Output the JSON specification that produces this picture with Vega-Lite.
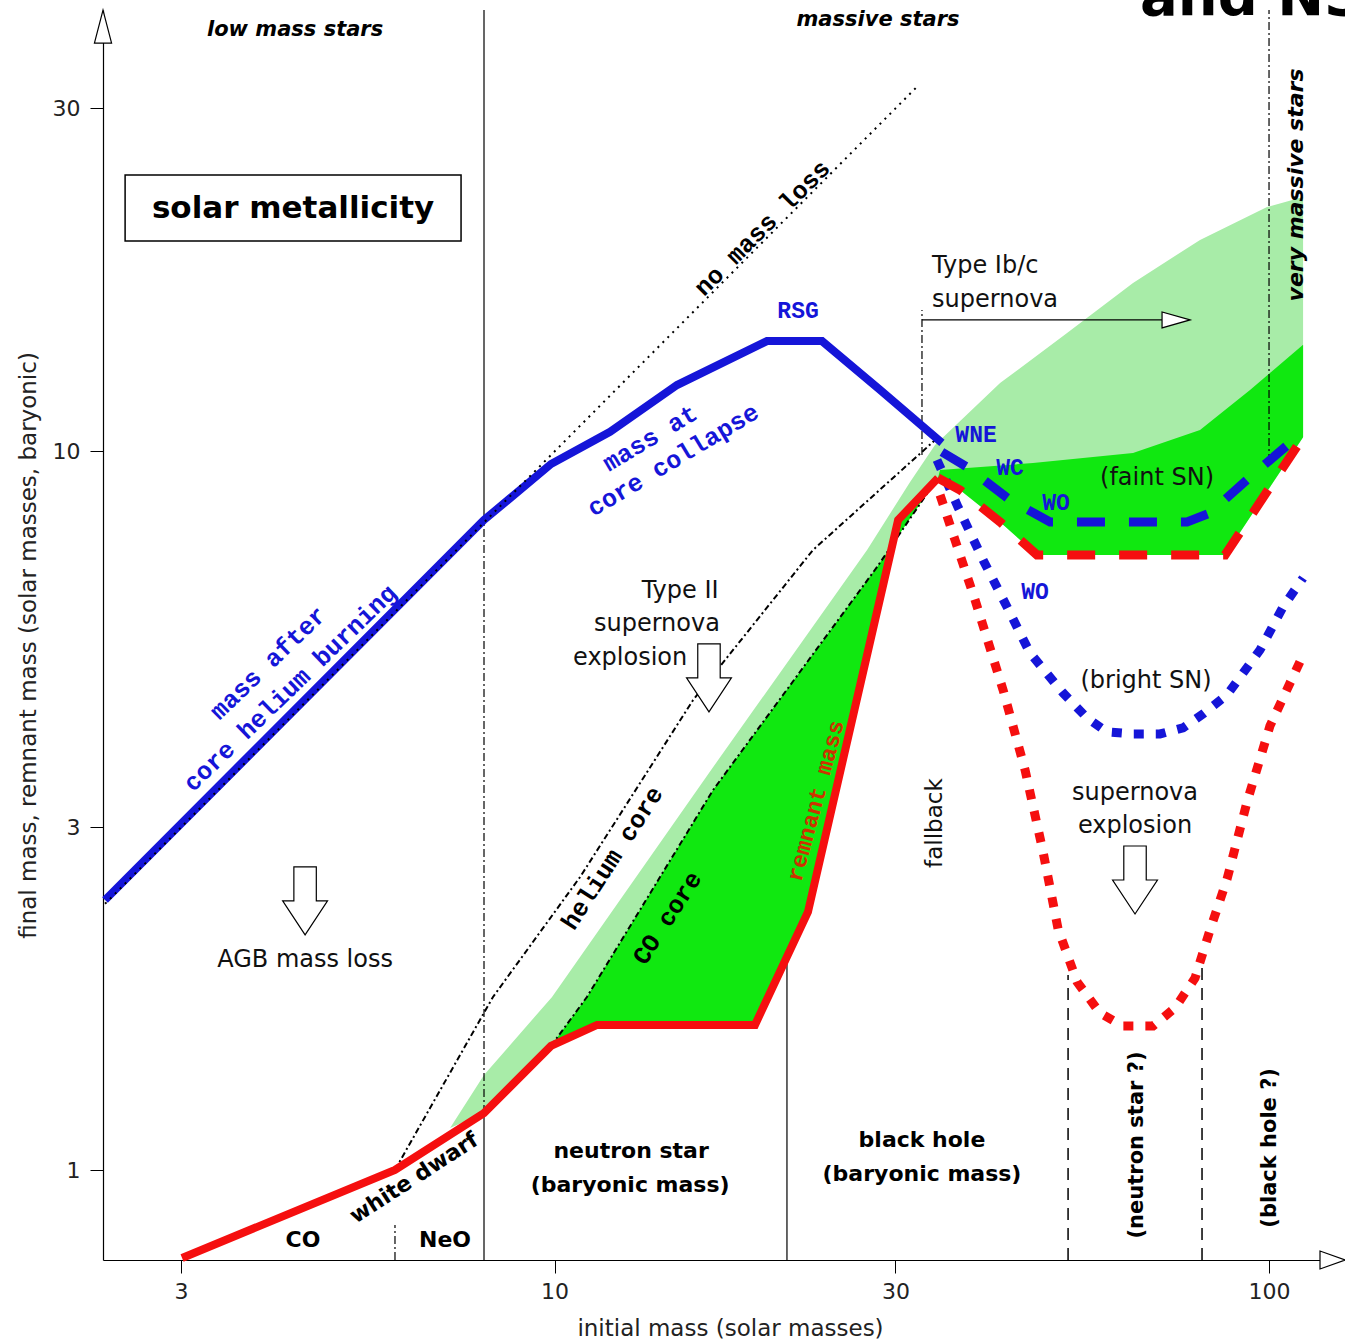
{
  "$schema": "https://vega.github.io/schema/vega-lite/v6.json",
  "width": 1237,
  "height": 1250,
  "autosize": {"type": "none"},
  "padding": {"left": 103, "top": 10, "right": 5, "bottom": 83},
  "background": "white",
  "config": {"view": {"stroke": null}, "axis": {"grid": false}},
  "encoding": {
    "x": {"field": "x", "type": "quantitative",
      "scale": {"type": "log", "domain": [2.3337, 125.7], "nice": false, "zero": false},
      "axis": {"values": [3, 10, 30, 100], "format": "d", "tickSize": 13, "tickColor": "#000", "domainColor": "#000", "domainWidth": 1.2,
        "labelFont": "DejaVu Sans", "labelFontSize": 22, "labelColor": "#222", "labelPadding": 8, "labelFlush": false, "labelOverlap": false,
        "title": "initial mass (solar masses)", "titleFont": "DejaVu Sans", "titleFontSize": 23, "titleFontWeight": "normal", "titleColor": "#222",
        "titleX": 627, "titleY": 68, "titleBaseline": "middle", "titleAlign": "center"}},
    "y": {"field": "y", "type": "quantitative",
      "scale": {"type": "log", "domain": [0.7507, 41.12], "nice": false, "zero": false},
      "axis": {"values": [1, 3, 10, 30], "format": "d", "tickSize": 13, "tickColor": "#000", "domainColor": "#000", "domainWidth": 1.2,
        "labelFont": "DejaVu Sans", "labelFontSize": 22, "labelColor": "#222", "labelPadding": 10, "labelFlush": false, "labelOverlap": false,
        "title": "final mass, remnant mass (solar masses, baryonic)", "titleFont": "DejaVu Sans", "titleFontSize": 23, "titleFontWeight": "normal", "titleColor": "#222",
        "titleX": -75, "titleY": 635, "titleAngle": 270, "titleBaseline": "middle", "titleAlign": "center"}}
  },
  "layer": [
    {"data": {"values": [
      {"i": 1, "x": 7.142, "y": 1.146}, {"i": 2, "x": 7.967, "y": 1.358}, {"i": 3, "x": 9.92, "y": 1.743}, {"i": 4, "x": 16.45, "y": 3.572},
      {"i": 5, "x": 27.38, "y": 7.295}, {"i": 6, "x": 31.45, "y": 9.07}, {"i": 7, "x": 34.08, "y": 10.21}, {"i": 8, "x": 42.03, "y": 12.45},
      {"i": 9, "x": 52.16, "y": 14.62}, {"i": 10, "x": 64.51, "y": 17.16}, {"i": 11, "x": 80.06, "y": 19.69}, {"i": 12, "x": 99.36, "y": 21.88},
      {"i": 13, "x": 111.6, "y": 22.59}, {"i": 14, "x": 111.6, "y": 10.47}, {"i": 15, "x": 86.79, "y": 7.18}, {"i": 16, "x": 47.34, "y": 7.18},
      {"i": 17, "x": 42.03, "y": 7.98}, {"i": 18, "x": 36.94, "y": 8.84}, {"i": 19, "x": 34.41, "y": 9.186}, {"i": 20, "x": 30.26, "y": 8.03},
      {"i": 21, "x": 22.63, "y": 2.288}, {"i": 22, "x": 19.08, "y": 1.594}, {"i": 23, "x": 11.47, "y": 1.594}, {"i": 24, "x": 9.888, "y": 1.49},
      {"i": 25, "x": 7.967, "y": 1.202}]},
     "mark": {"type": "line", "fill": "#a8eca8", "strokeWidth": 0},
     "encoding": {"order": {"field": "i", "type": "quantitative"}}},
    {"data": {"values": [
      {"i": 1, "x": 9.888, "y": 1.49}, {"i": 2, "x": 11.1, "y": 1.743}, {"i": 3, "x": 16.67, "y": 3.382}, {"i": 4, "x": 28.28, "y": 6.909},
      {"i": 5, "x": 34.08, "y": 9.07}, {"i": 6, "x": 34.41, "y": 9.186}, {"i": 7, "x": 30.26, "y": 8.03}, {"i": 8, "x": 22.63, "y": 2.288},
      {"i": 9, "x": 19.08, "y": 1.594}, {"i": 10, "x": 11.47, "y": 1.594}]},
     "mark": {"type": "line", "fill": "#10e810", "strokeWidth": 0},
     "encoding": {"order": {"field": "i", "type": "quantitative"}}},
    {"data": {"values": [
      {"i": 1, "x": 34.41, "y": 9.186}, {"i": 2, "x": 34.64, "y": 9.425}, {"i": 3, "x": 46.74, "y": 9.638}, {"i": 4, "x": 64.51, "y": 9.952},
      {"i": 5, "x": 80.06, "y": 10.71}, {"i": 6, "x": 94.06, "y": 12.18}, {"i": 7, "x": 111.6, "y": 14.07}, {"i": 8, "x": 111.6, "y": 10.47},
      {"i": 9, "x": 86.79, "y": 7.18}, {"i": 10, "x": 47.34, "y": 7.18}, {"i": 11, "x": 42.03, "y": 7.98}, {"i": 12, "x": 36.94, "y": 8.84}]},
     "mark": {"type": "line", "fill": "#10e810", "strokeWidth": 0},
     "encoding": {"order": {"field": "i", "type": "quantitative"}}},
    {"data": {"values": [
      {"x": 7.967, "y": 8.03, "y2": 41.12}, {"x": 7.967, "y": 0.7507, "y2": 1.202}, {"x": 21.15, "y": 0.7507, "y2": 1.982}]},
     "mark": {"type": "rule", "color": "#000", "strokeWidth": 1.2},
     "encoding": {"y2": {"field": "y2"}}},
    {"data": {"values": [
      {"x": 7.967, "y": 1.202, "y2": 8.03}, {"x": 32.68, "y": 9.89, "y2": 15.73}, {"x": 100, "y": 9.669, "y2": 41.12}, {"x": 5.98, "y": 0.7507, "y2": 0.8399}]},
     "mark": {"type": "rule", "color": "#000", "strokeWidth": 1.2, "strokeDash": [8, 3, 2, 3]},
     "encoding": {"y2": {"field": "y2"}}},
    {"data": {"values": [
      {"x": 52.33, "y": 0.7507, "y2": 1.87}, {"x": 80.58, "y": 0.7507, "y2": 1.931}]},
     "mark": {"type": "rule", "color": "#000", "strokeWidth": 1.5, "strokeDash": [12, 8]},
     "encoding": {"y2": {"field": "y2"}}},
    {"data": {"values": [{"x": 32.68, "x2": 70.83, "y": 15.24}]},
     "mark": {"type": "rule", "color": "#000", "strokeWidth": 1.2},
     "encoding": {"x2": {"field": "x2"}}},
    {"data": {"values": [{"x": 2.506, "x2": 7.399, "y": 19.63, "y2": 24.24}]},
     "mark": {"type": "rect", "fill": "white", "stroke": "#000", "strokeWidth": 1.5},
     "encoding": {"x2": {"field": "x2"}, "y2": {"field": "y2"}}},
    {"data": {"values": [
      {"i": 1, "x": 5.98, "y": 1.002}, {"i": 2, "x": 8.201, "y": 1.743}, {"i": 3, "x": 10.86, "y": 2.56}, {"i": 4, "x": 15.63, "y": 4.512},
      {"i": 5, "x": 23.0, "y": 7.295}, {"i": 6, "x": 34.08, "y": 10.37}]},
     "mark": {"type": "line", "color": "#000", "strokeWidth": 2, "strokeDash": [6, 3, 2, 3]},
     "encoding": {"order": {"field": "i", "type": "quantitative"}}},
    {"data": {"values": [
      {"i": 1, "x": 9.888, "y": 1.49}, {"i": 2, "x": 11.1, "y": 1.743}, {"i": 3, "x": 16.67, "y": 3.382}, {"i": 4, "x": 28.28, "y": 6.909},
      {"i": 5, "x": 34.08, "y": 9.07}]},
     "mark": {"type": "line", "color": "#000", "strokeWidth": 2, "strokeDash": [6, 3, 2, 3]},
     "encoding": {"order": {"field": "i", "type": "quantitative"}}},
    {"data": {"values": [
      {"i": 1, "x": 2.349, "y": 2.378}, {"i": 2, "x": 7.966, "y": 8.029}, {"i": 3, "x": 9.888, "y": 9.608}, {"i": 4, "x": 11.96, "y": 10.65},
      {"i": 5, "x": 14.84, "y": 12.37}, {"i": 6, "x": 19.83, "y": 14.24}, {"i": 7, "x": 23.68, "y": 14.24}, {"i": 8, "x": 28.55, "y": 12.18},
      {"i": 9, "x": 34.85, "y": 10.28}]},
     "mark": {"type": "line", "color": "#1515d8", "strokeWidth": 8},
     "encoding": {"order": {"field": "i", "type": "quantitative"}}},
    {"data": {"values": [
      {"i": 1, "x": 34.85, "y": 9.984}, {"i": 2, "x": 37.78, "y": 9.516}, {"i": 3, "x": 43.41, "y": 8.561}, {"i": 4, "x": 49.38, "y": 7.98},
      {"i": 5, "x": 76.78, "y": 7.98}, {"i": 6, "x": 82.68, "y": 8.212}, {"i": 7, "x": 94.06, "y": 9.215}, {"i": 8, "x": 111.6, "y": 10.65}]},
     "mark": {"type": "line", "color": "#1515d8", "strokeWidth": 9, "strokeDash": [28, 24]},
     "encoding": {"order": {"field": "i", "type": "quantitative"}}},
    {"data": {"values": [
      {"i": 1, "x": 34.3, "y": 9.731}, {"i": 2, "x": 36.7, "y": 8.371}, {"i": 3, "x": 39.79, "y": 7.066}, {"i": 4, "x": 42.99, "y": 6.077},
      {"i": 5, "x": 46.29, "y": 5.245}, {"i": 6, "x": 51.49, "y": 4.615}, {"i": 7, "x": 55.63, "y": 4.26}, {"i": 8, "x": 59.33, "y": 4.073},
      {"i": 9, "x": 64.51, "y": 4.047}, {"i": 10, "x": 70.38, "y": 4.047}, {"i": 11, "x": 75.8, "y": 4.126}, {"i": 12, "x": 80.84, "y": 4.315},
      {"i": 13, "x": 87.35, "y": 4.586}, {"i": 14, "x": 97.14, "y": 5.296}, {"i": 15, "x": 104.6, "y": 6.077}, {"i": 16, "x": 111.6, "y": 6.67}]},
     "mark": {"type": "line", "color": "#1515d8", "strokeWidth": 9, "strokeDash": [10, 12]},
     "encoding": {"order": {"field": "i", "type": "quantitative"}}},
    {"data": {"values": [
      {"i": 1, "x": 3.011, "y": 0.7555}, {"i": 2, "x": 5.98, "y": 1.002}, {"i": 3, "x": 7.966, "y": 1.202}, {"i": 4, "x": 9.888, "y": 1.49},
      {"i": 5, "x": 11.47, "y": 1.594}, {"i": 6, "x": 19.08, "y": 1.594}, {"i": 7, "x": 22.63, "y": 2.288}, {"i": 8, "x": 30.26, "y": 8.03},
      {"i": 9, "x": 34.41, "y": 9.186}]},
     "mark": {"type": "line", "color": "#f50f0f", "strokeWidth": 8},
     "encoding": {"order": {"field": "i", "type": "quantitative"}}},
    {"data": {"values": [
      {"i": 1, "x": 34.41, "y": 9.186}, {"i": 2, "x": 36.94, "y": 8.84}, {"i": 3, "x": 42.03, "y": 7.98}, {"i": 4, "x": 47.34, "y": 7.18},
      {"i": 5, "x": 86.79, "y": 7.18}, {"i": 6, "x": 111.6, "y": 10.47}]},
     "mark": {"type": "line", "color": "#f50f0f", "strokeWidth": 9, "strokeDash": [28, 24]},
     "encoding": {"order": {"field": "i", "type": "quantitative"}}},
    {"data": {"values": [
      {"i": 1, "x": 34.64, "y": 8.7}, {"i": 2, "x": 36.35, "y": 7.533}, {"i": 3, "x": 38.78, "y": 6.215}, {"i": 4, "x": 42.44, "y": 4.66},
      {"i": 5, "x": 45.56, "y": 3.606}, {"i": 6, "x": 48.28, "y": 2.774}, {"i": 7, "x": 50.67, "y": 2.167}, {"i": 8, "x": 53.87, "y": 1.829},
      {"i": 9, "x": 58.0, "y": 1.656}, {"i": 10, "x": 62.46, "y": 1.588}, {"i": 11, "x": 68.81, "y": 1.588}, {"i": 12, "x": 73.87, "y": 1.683},
      {"i": 13, "x": 78.78, "y": 1.852}, {"i": 14, "x": 82.68, "y": 2.16}, {"i": 15, "x": 87.35, "y": 2.543}, {"i": 16, "x": 93.16, "y": 3.255},
      {"i": 17, "x": 100.3, "y": 4.152}, {"i": 18, "x": 111.6, "y": 5.212}]},
     "mark": {"type": "line", "color": "#f50f0f", "strokeWidth": 9, "strokeDash": [10, 12]},
     "encoding": {"order": {"field": "i", "type": "quantitative"}}},
    {"data": {"values": [{"i": 1, "x": 2.349, "y": 2.349}, {"i": 2, "x": 32.27, "y": 32.27}]},
     "mark": {"type": "line", "color": "#000", "strokeWidth": 2, "strokeDash": [2, 5]},
     "encoding": {"order": {"field": "i", "type": "quantitative"}}},
    {"data": {"values": [{"x": 4.476, "y": 2.371}, {"x": 16.45, "y": 4.842}, {"x": 64.93, "y": 2.535}]},
     "mark": {"type": "point", "shape": "M-0.33,-1L0.33,-1L0.33,0L0.66,0L0,1L-0.66,0L-0.33,0Z", "size": 4624, "filled": true, "fill": "white", "stroke": "#000", "strokeWidth": 1.2, "opacity": 1}},
    {"data": {"values": [{"x": 74.11, "y": 15.24}]},
     "mark": {"type": "point", "shape": "M1,0L-1,-0.57L-1,0.57Z", "size": 784, "filled": true, "fill": "white", "stroke": "#000", "strokeWidth": 1.2, "opacity": 1}},
    {"data": {"values": [{"x": 122.7, "y": 0.7507}]},
     "mark": {"type": "point", "shape": "M1,0L-1,-0.72L-1,0.72Z", "size": 625, "filled": true, "fill": "white", "stroke": "#000", "strokeWidth": 1.2, "opacity": 1}},
    {"data": {"values": [{"x": 2.3337, "y": 39.0}]},
     "mark": {"type": "point", "shape": "M0,-1L0.52,1L-0.52,1Z", "size": 1089, "filled": true, "fill": "white", "stroke": "#000", "strokeWidth": 1.2, "opacity": 1}},
    {"data": {"values": [
      {"t": "Type II", "x": 14.99, "y": 6.397}, {"t": "supernova", "x": 13.91, "y": 5.755}, {"t": "explosion", "x": 12.76, "y": 5.162},
      {"t": "(faint SN)", "x": 69.7, "y": 9.186}, {"t": "(bright SN)", "x": 67.27, "y": 4.796}, {"t": "supernova", "x": 64.93, "y": 3.35},
      {"t": "explosion", "x": 64.93, "y": 3.013}, {"t": "AGB mass loss", "x": 4.476, "y": 1.963}]},
     "mark": {"type": "text", "font": "DejaVu Sans", "fontSize": 24, "color": "#111", "align": "center", "baseline": "middle"},
     "encoding": {"text": {"field": "t"}}},
    {"data": {"values": [{"t": "Type Ib/c", "x": 33.76, "y": 18.11}, {"t": "supernova", "x": 33.76, "y": 16.25}]},
     "mark": {"type": "text", "font": "DejaVu Sans", "fontSize": 24, "color": "#111", "align": "left", "baseline": "middle"},
     "encoding": {"text": {"field": "t"}}},
    {"data": {"values": [{"t": "fallback", "x": 34.08, "y": 3.042}]},
     "mark": {"type": "text", "font": "DejaVu Sans", "fontSize": 23, "color": "#111", "align": "center", "baseline": "middle", "angle": 270},
     "encoding": {"text": {"field": "t"}}},
    {"data": {"values": [
      {"t": "neutron star", "x": 12.8, "y": 1.064}, {"t": "(baryonic mass)", "x": 12.76, "y": 0.9546},
      {"t": "black hole", "x": 32.68, "y": 1.103}, {"t": "(baryonic mass)", "x": 32.68, "y": 0.9888},
      {"t": "CO", "x": 4.446, "y": 0.8007}, {"t": "NeO", "x": 7.027, "y": 0.8007}]},
     "mark": {"type": "text", "font": "DejaVu Sans", "fontWeight": "bold", "fontSize": 22, "color": "#000", "align": "center", "baseline": "middle"},
     "encoding": {"text": {"field": "t"}}},
    {"data": {"values": [{"t": "(neutron star ?)", "x": 65.35, "y": 1.085}, {"t": "(black hole ?)", "x": 100.3, "y": 1.075}]},
     "mark": {"type": "text", "font": "DejaVu Sans", "fontWeight": "bold", "fontSize": 21, "color": "#000", "align": "center", "baseline": "middle", "angle": 270},
     "encoding": {"text": {"field": "t"}}},
    {"data": {"values": [{"t": "white dwarf", "x": 6.358, "y": 0.9763}]},
     "mark": {"type": "text", "font": "DejaVu Sans", "fontWeight": "bold", "fontSize": 22, "color": "#000", "align": "center", "baseline": "middle", "angle": -33},
     "encoding": {"text": {"field": "t"}}},
    {"data": {"values": [{"t": "low mass stars", "x": 4.334, "y": 38.58}, {"t": "massive stars", "x": 28.36, "y": 39.82}]},
     "mark": {"type": "text", "font": "DejaVu Sans", "fontWeight": "bold", "fontStyle": "italic", "fontSize": 21, "color": "#000", "align": "center", "baseline": "middle"},
     "encoding": {"text": {"field": "t"}}},
    {"data": {"values": [{"t": "very massive stars", "x": 109.1, "y": 23.48}]},
     "mark": {"type": "text", "font": "DejaVu Sans", "fontWeight": "bold", "fontStyle": "italic", "fontSize": 22, "color": "#000", "align": "center", "baseline": "middle", "angle": 270},
     "encoding": {"text": {"field": "t"}}},
    {"data": {"values": [{"t": "solar metallicity", "x": 4.306, "y": 21.74}]},
     "mark": {"type": "text", "font": "DejaVu Sans", "fontWeight": "bold", "fontSize": 31, "color": "#000", "align": "center", "baseline": "middle"},
     "encoding": {"text": {"field": "t"}}},
    {"data": {"values": [{"t": "mass after", "x": 3.972, "y": 5.081}, {"t": "core helium burning", "x": 4.264, "y": 4.689}]},
     "mark": {"type": "text", "font": "Liberation Mono", "fontWeight": "bold", "fontSize": 25, "color": "#1515d8", "align": "center", "baseline": "middle", "angle": -44},
     "encoding": {"text": {"field": "t"}}},
    {"data": {"values": [{"t": "mass at", "x": 13.6, "y": 10.44}, {"t": "core collapse", "x": 14.65, "y": 9.731}]},
     "mark": {"type": "text", "font": "Liberation Mono", "fontWeight": "bold", "fontSize": 25, "color": "#1515d8", "align": "center", "baseline": "middle", "angle": -31},
     "encoding": {"text": {"field": "t"}}},
    {"data": {"values": [
      {"t": "RSG", "x": 21.92, "y": 15.68}, {"t": "WNE", "x": 38.9, "y": 10.54}, {"t": "WC", "x": 43.41, "y": 9.485},
      {"t": "WO", "x": 50.34, "y": 8.479}, {"t": "WO", "x": 47.04, "y": 6.377}]},
     "mark": {"type": "text", "font": "Liberation Mono", "fontWeight": "bold", "fontSize": 23, "color": "#1515d8", "align": "center", "baseline": "middle"},
     "encoding": {"text": {"field": "t"}}},
    {"data": {"values": [{"t": "no mass loss", "x": 19.52, "y": 20.46}]},
     "mark": {"type": "text", "font": "Liberation Mono", "fontWeight": "bold", "fontSize": 25, "color": "#000", "align": "center", "baseline": "middle", "angle": -45},
     "encoding": {"text": {"field": "t"}}},
    {"data": {"values": [{"t": "helium core", "x": 12.04, "y": 2.721}, {"t": "CO core", "x": 14.37, "y": 2.245}]},
     "mark": {"type": "text", "font": "Liberation Mono", "fontWeight": "bold", "fontSize": 25, "color": "#000", "align": "center", "baseline": "middle", "angle": -57},
     "encoding": {"text": {"field": "t"}}},
    {"data": {"values": [{"t": "remnant mass", "x": 23.22, "y": 3.266}]},
     "mark": {"type": "text", "font": "Liberation Mono", "fontWeight": "bold", "fontSize": 23, "color": "#cc3300", "align": "center", "baseline": "middle", "angle": -75},
     "encoding": {"text": {"field": "t"}}},
    {"data": {"values": [{"t": "and NS", "x": 65.98, "y": 40.47}]},
     "mark": {"type": "text", "font": "DejaVu Sans", "fontWeight": "bold", "fontSize": 56, "color": "#000", "align": "left", "baseline": "alphabetic"},
     "encoding": {"text": {"field": "t"}}}
  ]
}
